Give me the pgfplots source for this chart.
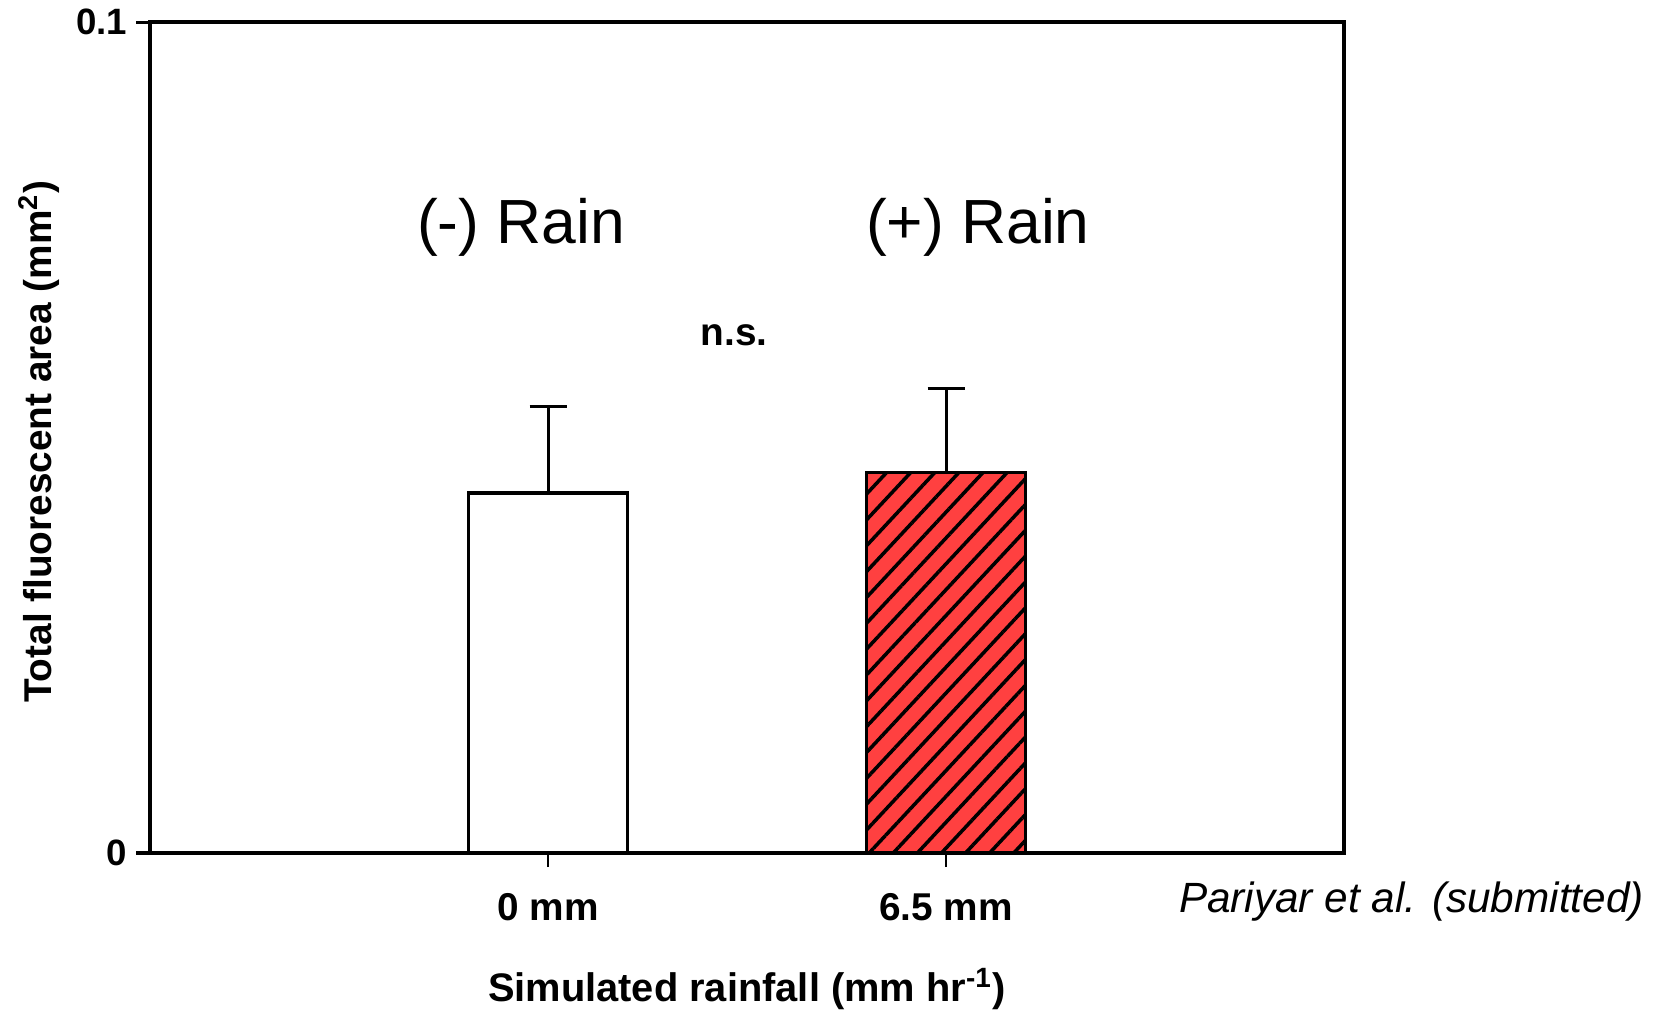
\documentclass[border=0pt]{standalone}
\usepackage{pgfplots}
\pgfplotsset{compat=1.18}
\usepackage{fontspec}
\setmainfont{Liberation Sans}
\usetikzlibrary{patterns.meta}
\definecolor{barred}{RGB}{255,64,64}
\begin{document}
\begin{tikzpicture}[x=1pt,y=1pt]
\useasboundingbox (0,0) rectangle (470.4,286.5);
\begin{axis}[
  at={(42.6pt,44.5pt)}, anchor=south west,
  scale only axis, width=338.7pt, height=235.7pt,
  xmin=0, xmax=3, ymin=0, ymax=0.1,
  xtick={1,2}, xticklabels={0 mm, 6.5 mm},
  ytick={0,0.1}, yticklabels={0,0.1},
  tick pos=left, tick align=outside,
  major tick length=4pt,
  axis line style={line width=1.15pt},
  xtick style={line width=0.6pt, black},
  ytick style={line width=0.9pt, black},
  /pgf/number format/assume math mode=true,
  xticklabel style={font=\bfseries\fontsize{11}{13}\selectfont, anchor=base, yshift=-15.1pt},
  yticklabel style={font=\bfseries\fontsize{10.4}{12}\selectfont, anchor=east, inner sep=0pt, xshift=-2.3pt},
  xlabel={Simulated rainfall (mm hr\textsuperscript{-1})},
  ylabel={Total fluorescent area (mm\textsuperscript{2})},
  xlabel style={font=\bfseries\fontsize{11.3}{13}\selectfont, at={(axis description cs:0.5,0)}, anchor=base, yshift=-42.1pt},
  ylabel style={font=\bfseries\fontsize{11.0}{13}\selectfont, at={(axis description cs:-0.0824,0.495)}, anchor=base},
  clip=false,
]
\addplot[ybar, bar width=45pt, bar shift=0pt, fill=white, draw=black, line width=0.95pt,
  error bars/.cd, y dir=plus, y explicit,
  error bar style={line width=0.85pt, black},
  error mark options={rotate=90, mark size=5.25pt, line width=0.9pt, black}]
  coordinates {(1,0.04334) +- (0,0.01044)};
\addplot[ybar, bar width=45pt, bar shift=0pt, fill=barred, draw=black, line width=0.95pt,
  postaction={pattern={Lines[angle=47, distance=5pt, line width=1pt]}},
  error bars/.cd, y dir=plus, y explicit,
  error bar style={line width=0.85pt, black},
  error mark options={rotate=90, mark size=5.25pt, line width=0.9pt, black}]
  coordinates {(2,0.04576) +- (0,0.01018)};
\node[font=\fontsize{17.7}{20}\selectfont, anchor=base] at (axis cs:0.932,0.07338) {(-) Rain};
\node[font=\fontsize{17.7}{20}\selectfont, anchor=base] at (axis cs:2.08,0.07338) {(+) Rain};
\node[font=\bfseries\fontsize{11}{13}\selectfont, anchor=base] at (axis cs:1.468,0.06114) {n.s.};
\node[font=\itshape\fontsize{12}{14}\selectfont, anchor=base west, inner sep=0pt] at (axis cs:2.584,-0.00718) {Pariyar et al. (submitted)};
\end{axis}
\end{tikzpicture}
\end{document}
